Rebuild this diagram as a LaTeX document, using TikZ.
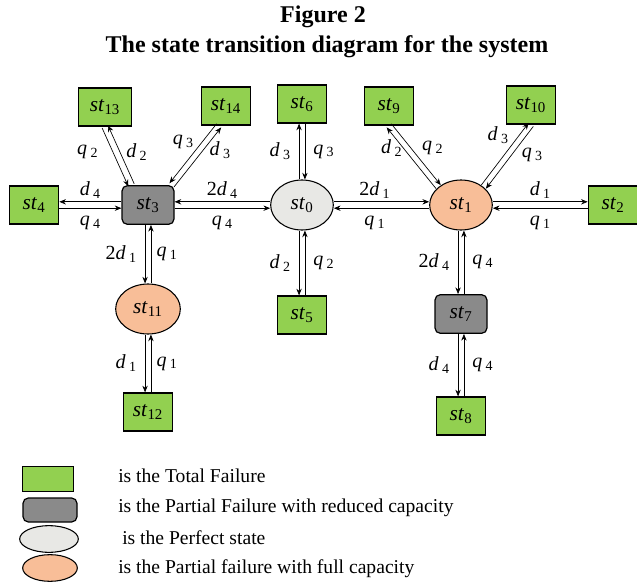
\documentclass[tikz,border=0pt]{standalone}
\usepackage{fontspec}
\setmainfont{Liberation Serif}
\usepackage{xcolor}
\usepackage{tikz}
\usetikzlibrary{arrows.meta,shapes.geometric}

\definecolor{failgreen}{RGB}{146,208,80}
\definecolor{redgray}{RGB}{138,138,138}
\definecolor{perfgray}{RGB}{232,232,229}
\definecolor{partorange}{RGB}{248,190,152}

\newcommand{\stname}[1]{\textit{st}\textsubscript{#1}}
\newcommand{\rt}[2]{\textit{#1}\,\textsubscript{#2}}

\begin{document}
\begin{tikzpicture}[x=0.75pt,y=-0.75pt,
  total/.style={draw,fill=failgreen,line width=0.9pt,minimum width=37pt,minimum height=28.5pt,inner sep=0pt,font=\fontsize{16}{16}\selectfont},
  reduced/.style={total,fill=redgray,rounded corners=4pt,minimum width=39pt,minimum height=29pt},
  perfect/.style={ellipse,draw,fill=perfgray,line width=0.8pt,minimum width=47pt,minimum height=37.5pt,inner sep=0pt,font=\fontsize{16}{16}\selectfont},
  fullcap/.style={perfect,fill=partorange},
  tr/.style={-{Stealth[length=5pt,width=4pt]},line width=0.5pt},
  lbl/.style={font=\fontsize{15}{15}\selectfont,inner sep=2pt},
  legtxt/.style={anchor=west,inner sep=0pt,font=\fontsize{14.7}{15}\selectfont}]
\useasboundingbox (0,0) rectangle (637,586);

% title
\node[font=\bfseries\fontsize{18}{18}\selectfont] (fig) at (323,17) {Figure 2};
\node[font=\bfseries\fontsize{18}{18}\selectfont] (title) at (327,47) {The state transition diagram for the system};

% states
\node[perfect] (st0) at (302,205) {\stname{0}};
\node[fullcap] (st1) at (461,205) {\stname{1}};
\node[total] (st2) at (613,205) {\stname{2}};
\node[reduced] (st3) at (148,205) {\stname{3}};
\node[total] (st4) at (34,205) {\stname{4}};
\node[total] (st5) at (302,315) {\stname{5}};
\node[total] (st6) at (302,104) {\stname{6}};
\node[reduced] (st7) at (461,314) {\stname{7}};
\node[total] (st8) at (461,416) {\stname{8}};
\node[total] (st9) at (389,106) {\stname{9}};
\node[total] (st10) at (531,105) {\stname{10}};
\node[fullcap,minimum width=48.5pt] (st11) at (148,309) {\stname{11}};
\node[total] (st12) at (148,412) {\stname{12}};
\node[total,minimum width=40pt] (st13) at (105,107) {\stname{13}};
\node[total] (st14) at (226,106) {\stname{14}};

% horizontal pairs
\draw[tr,transform canvas={yshift=2.4pt}] (st3) -- node[lbl,above] (d34) {\rt{d}{4}} (st4);
\draw[tr,transform canvas={yshift=-2.4pt}] (st4) -- node[lbl,below=4pt] (q34) {\rt{q}{4}} (st3);
\draw[tr,transform canvas={yshift=2.4pt}] (st0) -- node[lbl,above] (d03) {2\rt{d}{4}} (st3);
\draw[tr,transform canvas={yshift=-2.4pt}] (st3) -- node[lbl,below=4pt] (q03) {\rt{q}{4}} (st0);
\draw[tr,transform canvas={yshift=2.4pt}] (st0) -- node[lbl,above,xshift=-5pt] (d01) {2\rt{d}{1}} (st1);
\draw[tr,transform canvas={yshift=-2.4pt}] (st1) -- node[lbl,below=4pt,xshift=-5pt] (q01) {\rt{q}{1}} (st0);
\draw[tr,transform canvas={yshift=2.4pt}] (st1) -- node[lbl,above] (d12) {\rt{d}{1}} (st2);
\draw[tr,transform canvas={yshift=-2.4pt}] (st2) -- node[lbl,below=4pt] (q12) {\rt{q}{1}} (st1);

% vertical pairs
\draw[tr,transform canvas={xshift=-2.2pt}] (st0) -- node[lbl,left=4pt] (d06) {\rt{d}{3}} (st6);
\draw[tr,transform canvas={xshift=2.2pt}] (st6) -- node[lbl,right=4pt] (q06) {\rt{q}{3}} (st0);
\draw[tr,transform canvas={xshift=-2.2pt}] (st0) -- node[lbl,left=4pt] (d05) {\rt{d}{2}} (st5);
\draw[tr,transform canvas={xshift=2.2pt}] (st5) -- node[lbl,right=4pt] (q05) {\rt{q}{2}} (st0);
\draw[tr,transform canvas={xshift=-2.2pt}] (st3) -- node[lbl,left=4pt] (d311) {2\rt{d}{1}} (st11);
\draw[tr,transform canvas={xshift=2.2pt}] (st11) -- node[lbl,right=2pt] (q311) {\rt{q}{1}} (st3);
\draw[tr,transform canvas={xshift=-2.2pt}] (st11) -- node[lbl,left=4pt] (d1112) {\rt{d}{1}} (st12);
\draw[tr,transform canvas={xshift=2.2pt}] (st12) -- node[lbl,right=2pt] (q1112) {\rt{q}{1}} (st11);
\draw[tr,transform canvas={xshift=-2.2pt}] (st1) -- node[lbl,left=4pt] (d17) {2\rt{d}{4}} (st7);
\draw[tr,transform canvas={xshift=2.2pt}] (st7) -- node[lbl,right=4pt] (q17) {\rt{q}{4}} (st1);
\draw[tr,transform canvas={xshift=-2.2pt}] (st7) -- node[lbl,left=4pt] (d78) {\rt{d}{4}} (st8);
\draw[tr,transform canvas={xshift=2.2pt}] (st8) -- node[lbl,right=4pt] (q78) {\rt{q}{4}} (st7);

% diagonal pairs
\draw[tr,transform canvas={shift={(-2.2pt,-0.98pt)}}] (st13.south) -- node[lbl,xshift=-20.6pt,yshift=3.9pt] (q313) {\rt{q}{2}} (st3.130);
\draw[tr,transform canvas={shift={(2.2pt,0.98pt)}}] (st3.130) -- node[lbl,xshift=11.8pt,yshift=1.9pt] (d313) {\rt{d}{2}} (st13.south);
\draw[tr,transform canvas={shift={(-1.72pt,1.36pt)}}] (st14.250) -- node[lbl,xshift=-7.3pt,yshift=8.7pt] (q314) {\rt{q}{3}} (st3.40);
\draw[tr,transform canvas={shift={(1.72pt,-1.36pt)}}] (st3.40) -- node[lbl,xshift=17pt,yshift=5.4pt] (d314) {\rt{d}{3}} (st14.250);
\draw[tr,transform canvas={shift={(-1.72pt,-1.38pt)}}] (st1.north west) -- node[lbl,xshift=-14.8pt,yshift=7.4pt] (d19) {\rt{d}{2}} (st9.south);
\draw[tr,transform canvas={shift={(1.72pt,1.38pt)}}] (st9.south) -- node[lbl,xshift=12.5pt,yshift=4.6pt] (q19) {\rt{q}{2}} (st1.north west);
\draw[tr,transform canvas={shift={(-1.75pt,1.33pt)}}] (st1.north east) -- node[lbl,xshift=-5pt,yshift=14.2pt] (d110) {\rt{d}{3}} (st10.south);
\draw[tr,transform canvas={shift={(1.75pt,-1.33pt)}}] (st10.south) -- node[lbl,xshift=17pt,yshift=1.8pt] (q110) {\rt{q}{3}} (st1.north east);

% legend
\node[total,minimum width=38pt,minimum height=19pt] (legtotal) at (48,479) {};
\node[reduced,minimum width=40.5pt,minimum height=18pt] (legreduced) at (50,510) {};
\node[perfect,minimum width=44pt,minimum height=20pt] (legperfect) at (49,539) {};
\node[fullcap,minimum width=41pt,minimum height=20pt] (legfullcap) at (50,568) {};
\node[legtxt] (txttotal) at (118,476) {is the Total Failure};
\node[legtxt] (txtreduced) at (118,508) {is the Partial Failure with reduced capacity};
\node[legtxt] (txtperfect) at (122,538) {is the Perfect state};
\node[legtxt] (txtfullcap) at (118,569) {is the Partial failure with full capacity};
\end{tikzpicture}
\end{document}
